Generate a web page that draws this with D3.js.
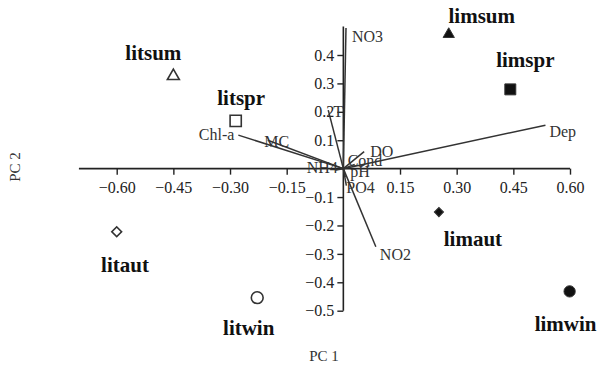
<!DOCTYPE html>
<html lang="en">
<head>
<meta charset="UTF-8"/>
<script src="https://d3js.org/d3.v7.min.js"></script>
<style>
  body { margin: 0; background: #fff; }
  text { font-family: "Liberation Serif", "Times New Roman", serif; }
</style>
</head>
<body>
<script type="text/javascript">
// PCA biplot: environmental vectors and site scores

var vectorNames = ["NO3", "Dep", "DO", "Cond", "pH", "PO4", "NO2", "NH4", "MC", "Chl-a", "T"];
var vectorPC1   = [0.007, 0.535, 0.055, 0.030, 0.005, 0.008, 0.086, -0.020, -0.200, -0.278, -0.040];
var vectorPC2   = [0.495, 0.153, 0.060, 0.015, -0.030, -0.060, -0.275, -0.005, 0.100, 0.118, 0.206];

var siteNames = ["litsum", "litspr", "limsum", "limspr", "litaut", "litwin", "limaut", "limwin"];
var sitePC1   = [-0.450, -0.285, 0.279, 0.442, -0.600, -0.228, 0.253, 0.599];
var sitePC2   = [0.326, 0.168, 0.473, 0.279, -0.222, -0.454, -0.153, -0.432];
var siteShape = ["triangle", "square", "triangle", "square", "diamond", "circle", "diamond", "circle"];

var xTicks = [-0.60, -0.45, -0.30, -0.15, 0.15, 0.30, 0.45, 0.60];
var yTicks = [0.4, 0.3, 0.2, 0.1, -0.1, -0.2, -0.3, -0.4, -0.5];

// layout: label nudges (pixels) for vectors and sites
var vecLabelPos = {
  "NO3": [6, 14, "start"], "Dep": [4, 11.5, "start"], "DO": [6, 5, "start"],
  "Cond": [-7, 2, "start"], "pH": [5, 0, "start"], "PO4": [0, 7.5, "start"],
  "NO2": [4, 13, "start"], "NH4": [2, 3, "end"], "MC": [9, 6.5, "middle"],
  "Chl-a": [-4, 5, "end"], "T": [5, 7, "start"]
};
var siteLabelPos = {
  "litsum": [-20, -16], "litspr": [5.5, -15.7], "limsum": [33, -11.6], "limspr": [15, -22.6],
  "litaut": [8.3, 40.7], "litwin": [-8.5, 37.6], "limaut": [34, 34.3], "limwin": [-4, 39.3]
};

var w = 600, h = 365;
var ink = "#222";
var serif = "'Liberation Serif', 'Times New Roman', serif";

var svg = d3.select("body").append("svg")
    .attr("width", w)
    .attr("height", h);

var xScale = d3.scaleLinear().domain([-0.6, 0.6]).range([116.7, 570]);
var yScale = d3.scaleLinear().domain([-0.5, 0.4]).range([310.7, 55]);

// x axis
var xAxis = d3.axisBottom(xScale)
    .tickValues(xTicks)
    .tickFormat(d3.format(".2f"))
    .tickSize(6)
    .tickPadding(7)
    .tickSizeOuter(0);

var gx = svg.append("g")
    .attr("transform", "translate(0," + yScale(0) + ")")
    .call(xAxis);
gx.select(".domain").remove();
gx.selectAll(".tick line").attr("stroke", ink).attr("stroke-width", 1.4);
gx.selectAll(".tick text")
    .attr("fill", ink)
    .style("font-family", serif)
    .style("font-size", "16px");
gx.append("line")
    .attr("x1", xScale(-0.70)).attr("x2", xScale(0.60))
    .attr("stroke", ink).attr("stroke-width", 1.6);

// y axis
var yAxis = d3.axisLeft(yScale)
    .tickValues(yTicks)
    .tickFormat(d3.format(".1f"))
    .tickSize(6)
    .tickPadding(3)
    .tickSizeOuter(0);

var gy = svg.append("g")
    .attr("transform", "translate(" + xScale(0) + ",0)")
    .call(yAxis);
gy.select(".domain").remove();
gy.selectAll(".tick line").attr("stroke", ink).attr("stroke-width", 1.4);
gy.selectAll(".tick text")
    .attr("fill", ink)
    .style("font-family", serif)
    .style("font-size", "16px");
gy.append("line")
    .attr("y1", yScale(0.5)).attr("y2", yScale(-0.5))
    .attr("stroke", ink).attr("stroke-width", 1.6);

// vectors
var vectors = vectorNames.map(function(n, i) {
    return { name: n, x: vectorPC1[i], y: vectorPC2[i] };
});

svg.selectAll("line.vec")
   .data(vectors)
   .enter()
   .append("line")
   .attr("class", "vec")
   .attr("x1", xScale(0)).attr("y1", yScale(0))
   .attr("x2", function(d) { return xScale(d.x); })
   .attr("y2", function(d) { return yScale(d.y); })
   .attr("stroke", "#333")
   .attr("stroke-width", 1.5);

svg.selectAll("text.vec")
   .data(vectors)
   .enter()
   .append("text")
   .attr("class", "vec")
   .attr("x", function(d) { return xScale(d.x) + vecLabelPos[d.name][0]; })
   .attr("y", function(d) { return yScale(d.y) + vecLabelPos[d.name][1]; })
   .attr("text-anchor", function(d) { return vecLabelPos[d.name][2]; })
   .attr("fill", "#333")
   .style("font-size", "16px")
   .text(function(d) { return d.name; });

// sites
var sites = siteNames.map(function(n, i) {
    return { name: n, x: sitePC1[i], y: sitePC2[i], shape: siteShape[i], filled: n.indexOf("lim") === 0 };
});

// [symbol, area open, area filled, rotation]; diamond is a square turned 45 degrees
var symbolTypes = {
    triangle: [d3.symbolTriangle, 62, 55, 0],
    square:   [d3.symbolSquare, 125, 120, 0],
    diamond:  [d3.symbolSquare, 48, 42, 45],
    circle:   [d3.symbolCircle, 110, 100, 0]
};

svg.selectAll("path.site")
   .data(sites)
   .enter()
   .append("path")
   .attr("class", "site")
   .attr("transform", function(d) {
        return "translate(" + xScale(d.x) + "," + yScale(d.y) + ") rotate(" + symbolTypes[d.shape][3] + ")";
   })
   .attr("d", function(d) {
        var s = symbolTypes[d.shape];
        return d3.symbol().type(s[0]).size(d.filled ? s[2] : s[1])();
   })
   .attr("fill", function(d) { return d.filled ? "#111" : "#fff"; })
   .attr("stroke", "#333")
   .attr("stroke-width", function(d) { return d.filled ? 1 : 1.6; });

svg.selectAll("text.site")
   .data(sites)
   .enter()
   .append("text")
   .attr("class", "site")
   .attr("x", function(d) { return xScale(d.x) + siteLabelPos[d.name][0]; })
   .attr("y", function(d) { return yScale(d.y) + siteLabelPos[d.name][1]; })
   .attr("text-anchor", "middle")
   .attr("fill", "#111")
   .style("font-size", "21px")
   .style("font-weight", "bold")
   .text(function(d) { return d.name; });

// axis titles
svg.append("text")
    .attr("x", 324)
    .attr("y", 361)
    .attr("text-anchor", "middle")
    .attr("fill", "#333")
    .style("font-size", "15px")
    .text("PC 1");

svg.append("text")
    .attr("transform", "translate(20,167) rotate(-90)")
    .attr("text-anchor", "middle")
    .attr("fill", "#333")
    .style("font-size", "15px")
    .text("PC 2");
</script>
</body>
</html>
